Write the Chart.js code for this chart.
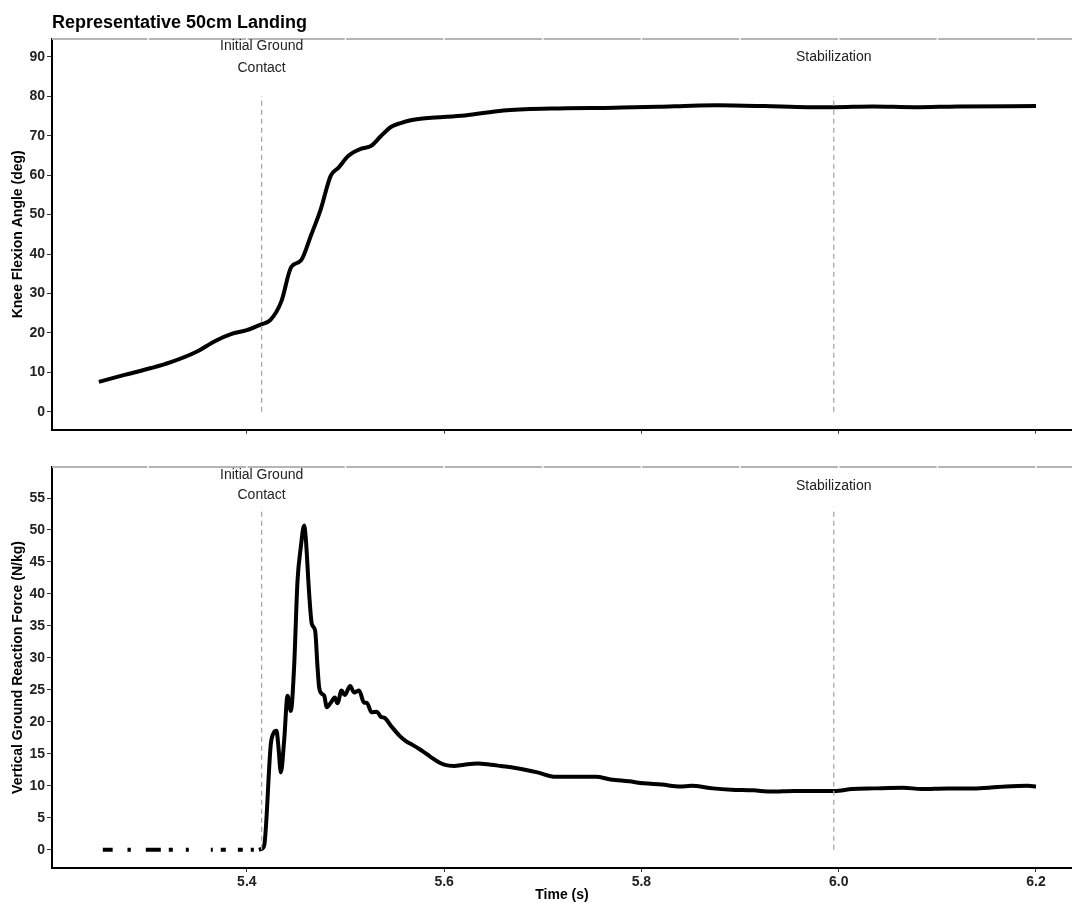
<!DOCTYPE html>
<html>
<head>
<meta charset="utf-8">
<script src="https://cdn.jsdelivr.net/npm/chart.js@4.4.1/dist/chart.umd.min.js"></script>
<style>
html, body { margin: 0; padding: 0; background: #fff; }
#wrap { position: relative; width: 1072px; height: 904px; overflow: hidden; }
#kneeWrap { position: absolute; left: 0; top: 0; width: 1072px; height: 440px; }
#forceWrap { position: absolute; left: 0; top: 440px; width: 1072px; height: 464px; }
</style>
</head>
<body>
<div id="wrap">
  <div id="kneeWrap"><canvas id="kneeCanvas"></canvas></div>
  <div id="forceWrap"><canvas id="forceCanvas"></canvas></div>
</div>
<script>
//Chart data
const kneeTime = [5.250, 5.275, 5.303, 5.323, 5.348, 5.369, 5.384, 5.400, 5.414, 5.424, 5.435, 5.445, 5.455, 5.465,
  5.475, 5.485, 5.493, 5.503, 5.516, 5.526, 5.536, 5.546, 5.556, 5.566, 5.576, 5.591, 5.621, 5.660, 5.708, 5.773,
  5.817, 5.851, 5.877, 5.925, 5.969, 5.995, 6.034, 6.077, 6.120, 6.200]
const kneeAngle = [7.6, 9.3, 11.1, 12.6, 15.1, 18.1, 19.7, 20.7, 22.1, 23.3, 28.0, 36.7, 38.4, 44.7,
  51.4, 59.8, 61.9, 64.9, 66.7, 67.4, 69.9, 72.2, 73.2, 73.9, 74.3, 74.6, 75.1, 76.4, 76.9, 77.1,
  77.3, 77.6, 77.7, 77.5, 77.2, 77.2, 77.4, 77.2, 77.4, 77.5]

const forceTime = [5.254, 5.264, 5.270, 5.279, 5.2824, 5.290, 5.2976, 5.3128, 5.317, 5.3209, 5.325, 5.332,
  5.3382, 5.3412, 5.352, 5.3635, 5.3655, 5.369, 5.3736, 5.3787, 5.385, 5.3909, 5.3959, 5.400, 5.404, 5.4071,
  5.410, 5.4122, 5.4142, 5.4175, 5.4243, 5.4267, 5.4301, 5.4321, 5.4345, 5.4378, 5.4413, 5.4446, 5.4479,
  5.4514, 5.4547, 5.4581, 5.4598, 5.4632, 5.4659, 5.4692, 5.4717, 5.4733, 5.476, 5.4784, 5.4811, 5.4851,
  5.4892, 5.4919, 5.496, 5.4993, 5.5047, 5.5088, 5.5138, 5.5189, 5.5216, 5.5264, 5.5318, 5.5358, 5.5399,
  5.546, 5.5544, 5.5612, 5.568, 5.5764, 5.5865, 5.5933, 5.600, 5.6101, 5.6203, 5.6339, 5.6473, 5.6575,
  5.6723, 5.6946, 5.7131, 5.7317, 5.7539, 5.7688, 5.7873, 5.8021, 5.8207, 5.8392, 5.8504, 5.8726, 5.8911,
  5.9134, 5.932, 5.9542, 5.9765, 5.9957, 6.0136, 6.0358, 6.0655, 6.084, 6.110, 6.1397, 6.1693, 6.1916, 6.200]
const forceValue = [0, 0, null, 0, 0, null, 0, 0, null, 0, 0, null,
  0, 0, null, 0, 0, null, 0, 0, null, 0, 0, null, 0, 0,
  null, 0, 0.1, 0.6, 16.5, 18.1, 18.6, 16.0, 12.1, 17.0, 24.1, 21.7, 28.5,
  42.1, 47.3, 50.7, 48.6, 40.0, 35.3, 34.3, 28.5, 25.4, 24.4, 24.1, 22.3, 23.0,
  23.8, 22.9, 24.9, 24.2, 25.6, 24.6, 24.9, 23.0, 23.0, 21.5, 21.6, 20.8, 20.6,
  19.4, 17.9, 17.0, 16.4, 15.6, 14.5, 13.8, 13.3, 13.1, 13.3, 13.5, 13.3, 13.1,
  12.8, 12.1, 11.4, 11.4, 11.4, 11.0, 10.7, 10.4, 10.2, 9.9, 10.0, 9.6, 9.4,
  9.3, 9.1, 9.2, 9.2, 9.2, 9.5, 9.6, 9.7, 9.5, 9.6, 9.6, 9.9, 10.0, 9.9]

const eventTimes = [5.415, 5.995]
const kneeEventTop = 80
const forceEventTop = 53.5

const timeTicks = [5.4, 5.6, 5.8, 6.0, 6.2]
const stripBreaks = [5.3, 5.4, 5.5, 5.6, 5.7, 5.8, 5.9, 6.0, 6.1, 6.2]
const kneeTicks = [0, 10, 20, 30, 40, 50, 60, 70, 80, 90]
const forceTicks = [0, 5, 10, 15, 20, 25, 30, 35, 40, 45, 50, 55]

const fontFamily = "'Liberation Sans', Arial, Helvetica, sans-serif"
Chart.defaults.font.family = fontFamily
Chart.defaults.color = '#222'



//Draws the grey top strip, the event labels and the title
const panelDecor = {
  id: 'panelDecor',
  afterDraw(chart, args, opts) {
    const {ctx, chartArea} = chart
    const xs = chart.scales.x, ys = chart.scales.y
    ctx.save()
    ctx.strokeStyle = '#b5b5b5'
    ctx.lineWidth = 2
    ctx.beginPath()
    ctx.moveTo(chartArea.left, chartArea.top)
    ctx.lineTo(chartArea.right, chartArea.top)
    ctx.stroke()
    ctx.strokeStyle = '#fff'
    ctx.lineWidth = 1.5
    stripBreaks.forEach(v => {
      const px = xs.getPixelForValue(v)
      ctx.beginPath()
      ctx.moveTo(px, chartArea.top - 2)
      ctx.lineTo(px, chartArea.top + 2)
      ctx.stroke()
    })

    ctx.fillStyle = '#222'
    ctx.font = '14px ' + fontFamily
    ctx.textAlign = 'center'
    ctx.textBaseline = 'middle'
    opts.labels.forEach(l => {
      l.lines.forEach((t, i) => ctx.fillText(t, xs.getPixelForValue(l.x), ys.getPixelForValue(l.y[i])))
    })

    if (opts.title) {
      ctx.fillStyle = '#000'
      ctx.font = 'bold 18px ' + fontFamily
      ctx.textAlign = 'left'
      ctx.textBaseline = 'alphabetic'
      ctx.fillText(opts.title, chartArea.left, 28)
    }
    ctx.restore()
  }
}

function eventDataset(time, top) {
  return {
    data: [{x: time, y: 0}, {x: time, y: top}],
    borderColor: '#a6a6a6',
    borderWidth: 1.3,
    borderDash: [5, 4],
    pointRadius: 0
  }
}

function buildOptions(cfg) {
  return {
    responsive: true,
    maintainAspectRatio: false,
    animation: false,
    devicePixelRatio: 1,
    layout: {padding: {top: cfg.padTop, right: 0, left: 0, bottom: 0}},
    plugins: {
      legend: {display: false},
      tooltip: {enabled: false},
      panelDecor: {labels: cfg.labels, title: cfg.title}
    },
    scales: {
      x: {
        type: 'linear',
        min: 5.2025,
        max: 6.2365,
        afterBuildTicks: s => { s.ticks = timeTicks.map(v => ({value: v})) },
        afterFit: s => { s.height = cfg.xHeight },
        ticks: {
          display: cfg.showX,
          padding: 2,
          color: '#222',
          font: {size: 14, weight: 'bold'},
          callback: v => v.toFixed(1)
        },
        grid: {drawOnChartArea: false, drawTicks: true, tickLength: 4, tickColor: '#333', tickWidth: 1},
        border: {display: true, color: '#000', width: 2},
        title: {
          display: cfg.showX,
          text: 'Time (s)',
          color: '#000',
          font: {size: 14, weight: 'bold'},
          padding: {top: 0, bottom: 0}
        }
      },
      y: {
        min: cfg.yMin,
        max: cfg.yMax,
        afterBuildTicks: s => { s.ticks = cfg.yTicks.map(v => ({value: v})) },
        afterFit: s => { s.width = 52 },
        ticks: {padding: 2, color: '#222', font: {size: 14, weight: 'bold'}},
        grid: {drawOnChartArea: false, drawTicks: true, tickLength: 5, tickColor: '#333', tickWidth: 1},
        border: {display: true, color: '#000', width: 2},
        title: {
          display: true,
          text: cfg.yTitle,
          color: '#000',
          font: {size: 14, weight: 'bold'},
          padding: {top: 10, bottom: 0}
        }
      }
    }
  }
}



//Create both panels
const kneeChart = new Chart(document.getElementById('kneeCanvas'), {
  type: 'line',
  data: {
    datasets: [
      eventDataset(eventTimes[0], kneeEventTop),
      eventDataset(eventTimes[1], kneeEventTop),
      {
        data: kneeTime.map((t, i) => ({x: t, y: kneeAngle[i]})),
        borderColor: '#000',
        borderWidth: 4,
        pointRadius: 0,
        cubicInterpolationMode: 'monotone'
      }
    ]
  },
  options: buildOptions({
    padTop: 39, xHeight: 8, showX: false,
    yMin: -4.5, yMax: 94.5, yTicks: kneeTicks,
    yTitle: 'Knee Flexion Angle (deg)',
    title: 'Representative 50cm Landing',
    labels: [
      {x: eventTimes[0], lines: ['Initial Ground', 'Contact'], y: [92.6, 87.2]},
      {x: eventTimes[1], lines: ['Stabilization'], y: [90]}
    ]
  }),
  plugins: [panelDecor]
})

const forceChart = new Chart(document.getElementById('forceCanvas'), {
  type: 'line',
  data: {
    datasets: [
      eventDataset(eventTimes[0], forceEventTop),
      eventDataset(eventTimes[1], forceEventTop),
      {
        data: forceTime.map((t, i) => ({x: t, y: forceValue[i]})),
        borderColor: '#000',
        borderWidth: 4,
        pointRadius: 0,
        spanGaps: false,
        cubicInterpolationMode: 'monotone'
      }
    ]
  },
  options: buildOptions({
    padTop: 27, xHeight: 36, showX: true,
    yMin: -2.85, yMax: 59.85, yTicks: forceTicks,
    yTitle: 'Vertical Ground Reaction Force (N/kg)',
    title: null,
    labels: [
      {x: eventTimes[0], lines: ['Initial Ground', 'Contact'], y: [58.6, 55.4]},
      {x: eventTimes[1], lines: ['Stabilization'], y: [56.8]}
    ]
  }),
  plugins: [panelDecor]
})
</script>
</body>
</html>
